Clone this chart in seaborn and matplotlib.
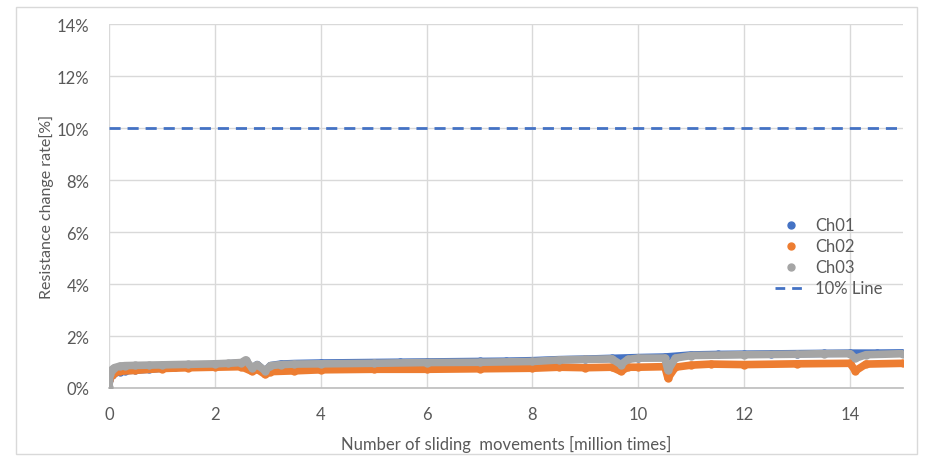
import pandas as pd
import matplotlib.pyplot as plt
import seaborn as sns
from matplotlib.lines import Line2D
from matplotlib.patches import Rectangle
from matplotlib.ticker import FuncFormatter

sns.set_theme(style="whitegrid")
plt.rcParams['font.family'] = ['Lato', 'DejaVu Sans']

# (procenty)
ch01_x = [0, 0.05, 0.1, 0.2, 0.3, 0.5, 0.75, 1.0, 1.25, 1.5, 1.75, 2.0, 2.25, 2.5, 2.58, 2.7, 2.8,
          2.95, 3.05, 3.25, 3.5, 4.0, 4.5, 5.0, 5.5, 6.0, 6.5, 7.0, 7.5, 8.0, 8.5, 9.0, 9.5, 10.0,
          10.5, 11.0, 11.5, 12.0, 12.5, 13.0, 13.5, 14.0, 14.5, 15.0]
ch01_y = [0.30, 0.50, 0.58, 0.63, 0.66, 0.69, 0.72, 0.76, 0.79, 0.82, 0.86, 0.90, 0.93, 0.96, 1.02, 0.74, 0.90,
          0.64, 0.86, 0.92, 0.94, 0.96, 0.97, 0.98, 0.99, 1.00, 1.01, 1.02, 1.03, 1.05, 1.09, 1.11, 1.14, 1.17,
          1.19, 1.27, 1.29, 1.30, 1.31, 1.32, 1.33, 1.34, 1.34, 1.35]

ch02_x = [0, 0.05, 0.1, 0.2, 0.5, 1.0, 1.5, 2.0, 2.5, 2.7, 2.8, 2.95, 3.05, 3.5, 4.0, 5.0, 6.0, 7.0,
          8.0, 8.5, 9.0, 9.5, 9.67, 9.8, 10.0, 10.5, 10.56, 10.7, 11.0, 11.37, 12.0, 13.0, 14.0, 14.1,
          14.3, 15.0]
ch02_y = [0.30, 0.50, 0.58, 0.64, 0.68, 0.75, 0.78, 0.80, 0.82, 0.64, 0.72, 0.52, 0.63, 0.66, 0.70, 0.72, 0.72, 0.74,
          0.76, 0.80, 0.78, 0.80, 0.64, 0.80, 0.80, 0.82, 0.38, 0.80, 0.88, 0.92, 0.90, 0.93, 0.95, 0.66,
          0.92, 0.95]

ch03_x = [0, 0.02, 0.05, 0.1, 0.2, 0.3, 0.5, 0.75, 1.0, 1.5, 2.0, 2.25, 2.5, 2.58, 2.7, 2.8, 2.95, 3.05,
          3.25, 3.5, 4.0, 5.0, 6.0, 7.0, 8.0, 8.5, 9.0, 9.5, 9.67, 9.8, 10.0, 10.5, 10.56, 10.7, 11.0,
          12.0, 13.0, 13.5, 14.0, 14.1, 14.3, 15.0]
ch03_y = [0.05, 0.55, 0.70, 0.78, 0.84, 0.86, 0.87, 0.88, 0.89, 0.91, 0.93, 0.95, 0.98, 1.08, 0.78, 0.90, 0.66, 0.86,
          0.90, 0.92, 0.93, 0.95, 0.98, 0.99, 1.02, 1.08, 1.10, 1.12, 0.90, 1.10, 1.15, 1.15, 0.68, 1.15, 1.25,
          1.28, 1.30, 1.32, 1.32, 1.14, 1.28, 1.32]

line_10 = 10
x_ticks = [0, 2, 4, 6, 8, 10, 12, 14]
y_ticks = [0, 2, 4, 6, 8, 10, 12, 14]

colors = {'Ch01': '#4472C4', 'Ch02': '#ED7D31', 'Ch03': '#A5A5A5'}
series = {'Ch01': (ch01_x, ch01_y), 'Ch02': (ch02_x, ch02_y), 'Ch03': (ch03_x, ch03_y)}

fig = plt.figure(figsize=(9.3, 4.6), dpi=100)
fig.patches.append(Rectangle((16 / 930, 5 / 460), 901 / 930, 447 / 460, transform=fig.transFigure,
                             fill=False, edgecolor='#d9d9d9', linewidth=1))
ax = fig.add_axes([109 / 930, 1 - 389 / 460, 794 / 930, 364 / 460])

for name, (xs, ys) in series.items():
    df = pd.DataFrame({'x': xs, 'y': ys})
    sns.lineplot(data=df, x='x', y='y', ax=ax, color=colors[name], linewidth=5.5,
                 marker='o', markersize=6, markeredgewidth=0, sort=False, zorder=3)

ax.axhline(line_10, color='#4472C4', linestyle=(0, (4, 2.5)), linewidth=2, zorder=2)

ax.set_xlim(0, 15)
ax.set_ylim(0, 14)
ax.set_xticks(x_ticks)
ax.set_yticks(y_ticks)
ax.yaxis.set_major_formatter(FuncFormatter(lambda v, p: f"{v:.0f}%"))
ax.grid(True, color='#d9d9d9', linewidth=1)
ax.set_facecolor('white')
for s in ['top', 'right', 'left']:
    ax.spines[s].set_visible(False)
ax.spines['bottom'].set_color('#bfbfbf')
ax.tick_params(axis='both', colors='#595959', labelsize=12, length=0)
ax.tick_params(axis='x', pad=13)
ax.tick_params(axis='y', pad=14)

ax.set_xlabel('Number of sliding  movements [million times]', fontsize=12, color='#595959', labelpad=9)
ax.set_ylabel('Resistance change rate[%]', fontsize=11.5, color='#595959', labelpad=2)

handles = [Line2D([], [], color=colors[n], marker='o', linestyle='none', markersize=5) for n in series]
handles.append(Line2D([], [], color='#4472C4', linestyle=(0, (3.5, 2.5)), linewidth=2))
ax.legend(handles, list(series) + ['10% Line'], loc='center left', bbox_to_anchor=(0.82, 0.36),
          frameon=False, fontsize=12, labelcolor='#595959', handlelength=1.9, handletextpad=0.5,
          labelspacing=0.3)

plt.savefig('out.png', dpi=100)
